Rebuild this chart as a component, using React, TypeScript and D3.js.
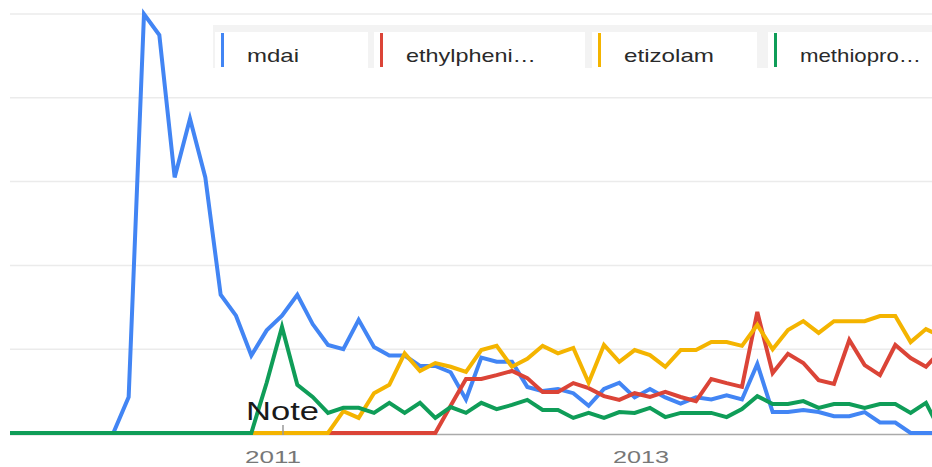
import React from "react";
import * as d3 from "d3";

const months: string[] = (() => {
  const out: string[] = [];
  for (let i = 0; i < 62; i++) {
    const y = 2009 + Math.floor((6 + i) / 12);
    const m = ((6 + i) % 12) + 1;
    out.push(`${y}-${String(m).padStart(2, "0")}`);
  }
  return out;
})();

const mdai = [0, 0, 0, 0, 0, 0, 0, 0, 8.6, 100, 95, 61, 75, 61, 33, 28, 18.5, 24.5, 28, 33, 26, 21, 20, 27, 20.5, 18.5, 18.5, 16, 16, 14.5, 8, 18, 17, 17, 11, 10, 10.5, 9.5, 6.5, 10.5, 12, 8.5, 10.5, 8.5, 7, 8.5, 8, 9, 8, 16.5, 5, 5, 5.5, 5, 4, 4, 5, 2.5, 2.5, 0, 0, 0];
const ethylphenidate = [0, 0, 0, 0, 0, 0, 0, 0, 0, 0, 0, 0, 0, 0, 0, 0, 0, 0, 0, 0, 0, 0, 0, 0, 0, 0, 0, 0, 0, 6.5, 12.9, 12.9, 13.8, 14.8, 13.1, 9.8, 9.8, 11.9, 10.7, 8.8, 7.9, 9.5, 8.6, 9.8, 8.6, 7.6, 12.9, 11.9, 11, 28.9, 14.3, 18.9, 16.7, 12.6, 11.7, 22.2, 16.2, 13.8, 21, 17.9, 15.8, 19.8];
const etizolam = [0, 0, 0, 0, 0, 0, 0, 0, 0, 0, 0, 0, 0, 0, 0, 0, 0, 0, 0, 0, 0, 0, 5.2, 3.6, 9.5, 11.5, 19, 14.8, 16.7, 15.8, 14.6, 19.8, 20.8, 15.8, 17.7, 20.8, 19, 20.3, 12, 21, 17, 19.8, 18.6, 15.8, 19.8, 19.8, 21.7, 21.7, 20.8, 25.8, 20, 24.6, 26.7, 23.9, 26.7, 26.7, 26.7, 27.9, 27.9, 21.7, 24.8, 23];
const methiopropamine = [0, 0, 0, 0, 0, 0, 0, 0, 0, 0, 0, 0, 0, 0, 0, 0, 0, 12, 25.3, 11.5, 8.6, 4.8, 6, 6, 4.8, 7.2, 4.8, 7.2, 3.6, 6.2, 4.8, 7.2, 5.7, 6.7, 7.9, 5.5, 5.5, 3.6, 4.8, 3.6, 5, 4.8, 6, 3.8, 4.8, 4.8, 4.8, 3.8, 5.7, 8.8, 6.9, 6.9, 7.6, 6, 6.9, 6.9, 6, 6.9, 6.9, 4.8, 7.2, 0];

const seriesNames = ["mdai", "ethylpheni…", "etizolam", "methiopro…"];
const seriesValues = [mdai, ethylphenidate, etizolam, methiopropamine];
const seriesColors = ["#4285f4", "#db4437", "#f4b400", "#0f9d58"];
const yTicks = [0, 20, 40, 60, 80, 100];
const xTickLabels = ["2011", "2013"];
const xTickMonths = ["2011-01", "2013-01"];
const noteText = "Note";
const noteMonth = "2011-01";

const W = 932;
const H = 467;
const LEFT = 10;
const RIGHT = 932;

// legend layout
const cellX = [215, 374, 592, 768];
const cellW = [153, 211, 165, 164];
const textW = [52, 130, 90, 121];

export default function App() {
  const x = d3.scalePoint<string>().domain(months).range([6, 941.3]);
  const y = d3.scaleLinear().domain([0, 100]).range([433, 14]);
  const line = d3
    .line<number>()
    .x((_, i) => x(months[i]) as number)
    .y((d) => y(d));
  const font = "'Liberation Sans', Arial, sans-serif";

  return (
    <svg
      width={W}
      height={H}
      style={{ position: "absolute", left: 0, top: 0, background: "#fff" }}
    >
      <defs>
        <clipPath id="plot">
          <rect x={LEFT} y={0} width={RIGHT - LEFT} height={H} />
        </clipPath>
      </defs>
      {yTicks.map((t) =>
        t === 0 ? null : (
          <line
            key={t}
            x1={LEFT}
            x2={RIGHT}
            y1={y(t)}
            y2={y(t)}
            stroke="#ebebeb"
            strokeWidth={1.5}
          />
        )
      )}
      <line x1={LEFT} x2={RIGHT} y1={y(0) + 1.5} y2={y(0) + 1.5} stroke="#aaaaaa" strokeWidth={1.5} />
      {/* legend */}
      <rect x={213} y={25} width={RIGHT - 213} height={43} fill="#f3f3f3" />
      {seriesNames.map((n, i) => (
        <g key={n}>
          <rect x={cellX[i]} y={32} width={cellW[i]} height={36} fill="#ffffff" />
          <rect x={cellX[i] + 6} y={33} width={3} height={34} fill={seriesColors[i]} />
          <text
            x={cellX[i] + 32}
            y={62}
            fontFamily={font}
            fontSize={19}
            fill="#2a2a2a"
            textLength={textW[i]}
            lengthAdjust="spacingAndGlyphs"
          >
            {n}
          </text>
        </g>
      ))}
      <g clipPath="url(#plot)">
        {seriesValues.map((vals, i) => (
          <path
            key={i}
            d={line(vals) as string}
            fill="none"
            stroke={seriesColors[i]}
            strokeWidth={4}
            strokeLinejoin="miter"
          />
        ))}
      </g>
      {/* note annotation */}
      <line
        x1={(x(noteMonth) as number) + 1}
        x2={(x(noteMonth) as number) + 1}
        y1={425}
        y2={435}
        stroke="#999"
        strokeWidth={1.5}
      />
      <text
        x={246}
        y={420}
        fontFamily={font}
        fontSize={25}
        fill="#1a1a1a"
        textLength={73}
        lengthAdjust="spacingAndGlyphs"
      >
        {noteText}
      </text>
      {xTickLabels.map((l, i) => (
        <text
          key={l}
          x={(x(xTickMonths[i]) as number) - 9}
          y={463}
          textAnchor="middle"
          fontFamily={font}
          fontSize={16.5}
          fill="#777"
          textLength={56}
          lengthAdjust="spacingAndGlyphs"
        >
          {l}
        </text>
      ))}
    </svg>
  );
}
